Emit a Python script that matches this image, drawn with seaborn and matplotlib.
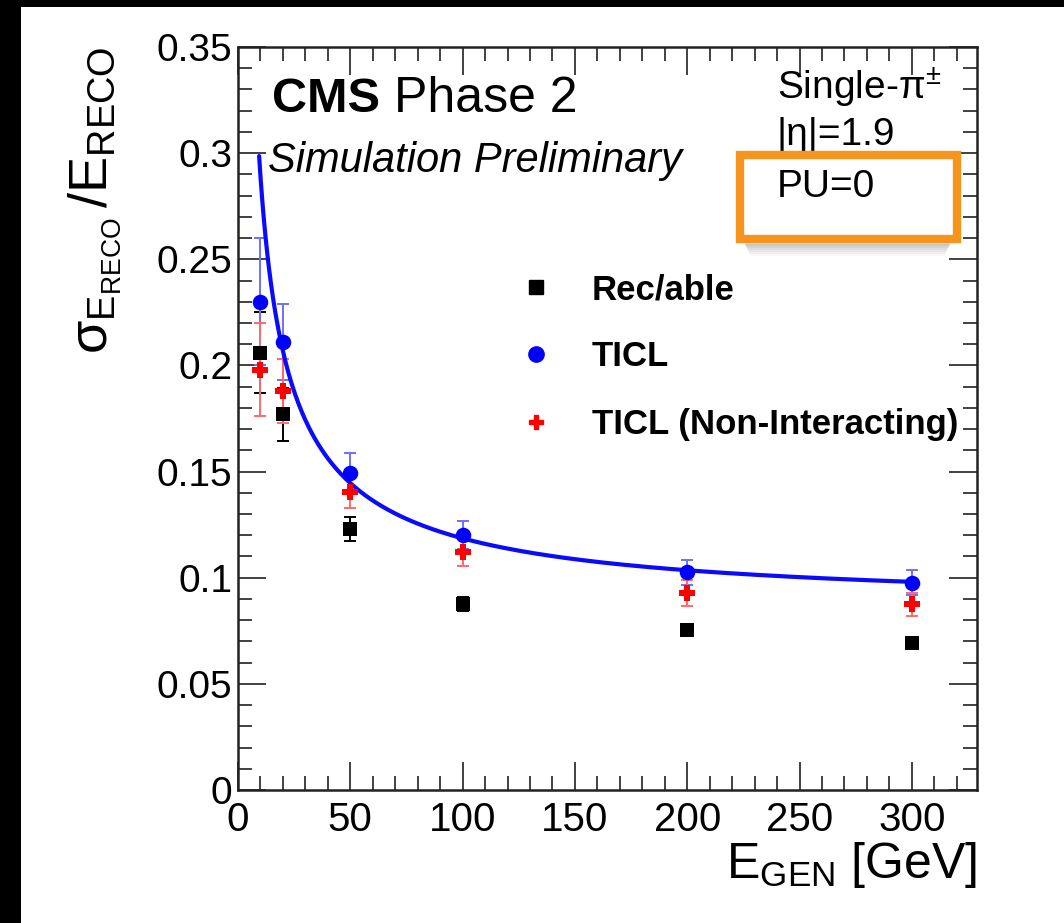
import numpy as np
import pandas as pd
import matplotlib
matplotlib.use("Agg")
import matplotlib.pyplot as plt
from matplotlib.lines import Line2D
from matplotlib.patches import Rectangle
from matplotlib.ticker import MultipleLocator
import seaborn as sns

# ---------------- data ----------------
energies = [10, 20, 50, 100, 200, 300]
recable = [0.206, 0.177, 0.123, 0.0875, 0.0752, 0.0692]
recable_err = [0.019, 0.0125, 0.0057, 0.0033, 0.002, 0.002]
ticl = [0.230, 0.211, 0.1495, 0.120, 0.1025, 0.0977]
ticl_err = [0.030, 0.018, 0.0093, 0.0066, 0.0058, 0.0058]
ticl_ni = [0.198, 0.188, 0.1405, 0.1122, 0.0929, 0.0875]
ticl_ni_err = [0.022, 0.015, 0.0078, 0.0066, 0.006, 0.0055]
series_names = ["Rec/able", "TICL", "TICL (Non-Interacting)"]
series_colors = ["#000000", "#0000ff", "#ff0000"]
error_colors = ["#000000", "#6f6fff", "#ff6a6a"]

# TICL resolution fit: sqrt(S^2/E + N^2/E^2 + C^2)
fit_stochastic = 0.807
fit_noise = 1.05
fit_constant = 0.0862
fit_range = [9.4, 300]

xticks_major = [0, 50, 100, 150, 200, 250, 300]
yticks_major = [0, 0.05, 0.1, 0.15, 0.2, 0.25, 0.3, 0.35]
ytick_labels = ["0", "0.05", "0.1", "0.15", "0.2", "0.25", "0.3", "0.35"]

# ---------------- style ----------------
sns.set_style("ticks")
plt.rcParams["font.family"] = ["Liberation Sans", "DejaVu Sans"]
plt.rcParams["mathtext.fontset"] = "custom"
plt.rcParams["mathtext.rm"] = "Liberation Sans"
plt.rcParams["mathtext.it"] = "Liberation Sans:italic"
plt.rcParams["mathtext.bf"] = "Liberation Sans:bold"
plt.rcParams["mathtext.sf"] = "Liberation Sans"
for k in ["text.color", "axes.labelcolor", "xtick.labelcolor", "ytick.labelcolor"]:
    plt.rcParams[k] = "black"

W, H = 1064, 923
fig = plt.figure(figsize=(W / 100, H / 100), dpi=100, facecolor="white")
ax = fig.add_axes([238 / W, 1 - 790 / H, (977 - 238) / W, (790 - 47) / H])

df = pd.DataFrame({
    "E": energies * 3,
    "res": recable + ticl + ticl_ni,
    "err": recable_err + ticl_err + ticl_ni_err,
    "series": sum([[n] * len(energies) for n in series_names], []),
})

# fit curve
fit_x = np.linspace(fit_range[0], fit_range[1], 400)
fit_y = np.sqrt(fit_stochastic**2 / fit_x + fit_noise**2 / fit_x**2 + fit_constant**2)
sns.lineplot(x=fit_x, y=fit_y, ax=ax, color="#0a0aff", linewidth=3.0, zorder=3)

# error bars
for name, ec in zip(series_names, error_colors):
    sub = df[df["series"] == name]
    ax.errorbar(sub["E"], sub["res"], yerr=sub["err"], fmt="none", ecolor=ec,
                elinewidth=1.4, capsize=4, capthick=1.4, zorder=2)

markers = {"Rec/able": "s", "TICL": "o", "TICL (Non-Interacting)": "P"}
sizes_map = {"Rec/able": 110, "TICL": 125, "TICL (Non-Interacting)": 120}
palette = dict(zip(series_names, series_colors))
for name in series_names:
    sub = df[df["series"] == name]
    sns.scatterplot(data=sub, x="E", y="res", color=palette[name], marker=markers[name],
                    s=sizes_map[name], linewidth=0, ax=ax, zorder=4, legend=False)

ax.set_xlim(0, 329)
ax.set_ylim(0, 0.35)
ax.set_xticks(xticks_major)
ax.set_yticks(yticks_major)
ax.set_yticklabels(ytick_labels)
ax.xaxis.set_minor_locator(MultipleLocator(10))
ax.yaxis.set_minor_locator(MultipleLocator(0.01))
ax.tick_params(which="major", direction="in", length=20, width=1.3, top=True, right=True,
               color="#333333")
ax.tick_params(which="minor", direction="in", length=10, width=1.3, top=True, right=True,
               color="#333333")
ax.tick_params(axis="x", which="major", labelsize=29, pad=8)
ax.tick_params(axis="y", which="major", labelsize=28, pad=4)
for sp in ax.spines.values():
    sp.set_linewidth(1.8)
    sp.set_color("#222222")

ax.set_xlabel(r"$\mathrm{E_{GEN}}$ [GeV]", fontsize=36, loc="right", labelpad=1)
ax.set_ylabel(r"$\mathrm{\sigma_{E_{RECO}}\,/E_{RECO}}$", fontsize=39, loc="top", labelpad=24)

# legend
handles = [
    Line2D([], [], linestyle="none", marker="s", color="#000000", markersize=10),
    Line2D([], [], linestyle="none", marker="o", color="#0000ff", markersize=11),
    Line2D([], [], linestyle="none", marker="P", color="#ff0000", markersize=10),
]
leg = ax.legend(handles, series_names, loc="upper left",
                bbox_to_anchor=((519 - 238) / (977 - 238), (790 - 273) / (790 - 47)),
                frameon=False, borderpad=0, borderaxespad=0, handlelength=1.0,
                handletextpad=1.1, labelspacing=0.99,
                prop={"family": "Liberation Sans", "weight": "bold", "size": 25})

# texts
def ft(x, y, s, **kw):
    fig.text(x / W, 1 - y / H, s, va="baseline", ha="left", **kw)

ft(272, 112, "CMS", fontsize=35, fontweight="bold")
ft(394, 112, "Phase 2", fontsize=36)
ft(268, 172, "Simulation Preliminary", fontsize=30, style="italic")
ft(777, 99, r"Single-$\mathrm{\pi^{\pm}}$", fontsize=28)
ft(777, 145, "|η|=1.9", fontsize=28)
ft(777, 197, "PU=0", fontsize=28)

# orange highlight box with soft shadow
for i, a in enumerate([0.12, 0.10, 0.08, 0.06, 0.04, 0.025]):
    fig.patches.append(Rectangle(((745 + i) / W, 1 - (246 + 2 * i) / H), (205 - 2 * i) / W, 4 / H,
                                 transform=fig.transFigure, facecolor="black", alpha=a,
                                 edgecolor="none", zorder=5))
fig.patches.append(Rectangle((740 / W, 1 - 239 / H), 217 / W, 84 / H, transform=fig.transFigure,
                             facecolor="none", edgecolor="#f7941d", linewidth=6, zorder=6))

# black border of the screenshot
fig.patches.append(Rectangle((0, 0), 21 / W, 1, transform=fig.transFigure, facecolor="black",
                             edgecolor="none", zorder=10))
fig.patches.append(Rectangle((0, 1 - 7 / H), 1, 7 / H, transform=fig.transFigure,
                             facecolor="black", edgecolor="none", zorder=10))

fig.savefig("out.png", dpi=100, facecolor="white")
